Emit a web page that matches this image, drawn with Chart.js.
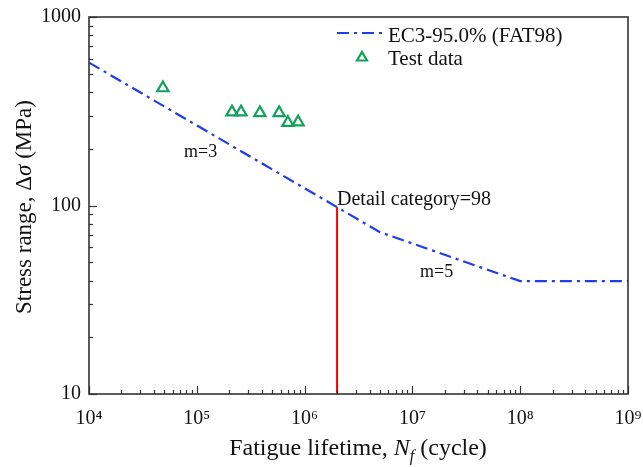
<!DOCTYPE html>
<html>
<head>
<meta charset="utf-8">
<script src="https://cdn.jsdelivr.net/npm/chart.js@4.4.0/dist/chart.umd.min.js"></script>
<style>
    html, body { margin: 0; padding: 0; background: #fff; }
    #wrap { width: 643px; height: 467px; }
</style>
</head>
<body>
<div id="wrap"><canvas id="graficoSN" width="643" height="467"></canvas></div>
<script>
// curva EC3 - 95% (FAT98)
const ciclosEC3 = [1e4, 2e6, 5e6, 1e8, 1e9];
const tensaoEC3 = [573, 98, 72.2, 39.7, 39.7];

// dados de ensaio
const ciclosTeste = [4.85e4, 2.12e5, 2.57e5, 3.85e5, 5.8e5, 7.0e5, 8.7e5];
const tensaoTeste = [420, 313, 313, 310, 310, 275, 277];

// linha da categoria de detalhe
const ciclosDetalhe = [2e6, 2e6];
const tensaoDetalhe = [10, 98];

// ticks principais
const ticksX = [1e4, 1e5, 1e6, 1e7, 1e8, 1e9];
const ticksY = [10, 100, 1000];
const expoentes = ["⁴", "⁵", "⁶", "⁷", "⁸", "⁹"];

const FONTE = "'Liberation Serif', 'Times New Roman', serif";
const AZUL = "#1f3ee6";
const VERDE = "#12a35a";

function pontos(xs, ys) {
    return xs.map((x, i) => ({ x: x, y: ys[i] }));
}

// ticks menores 2..9 em cada decada
function ticksLog(majors) {
    const lista = [];
    majors.forEach((m, i) => {
        lista.push({ value: m, major: true });
        if (i < majors.length - 1) {
            for (let k = 2; k <= 9; k++) lista.push({ value: m * k, major: false });
        }
    });
    return lista;
}

const plugDesenho = {
    id: "desenho",
    afterDraw(chart) {
        const ctx = chart.ctx;
        const a = chart.chartArea;
        const sx = chart.scales.x, sy = chart.scales.y;
        ctx.save();

        // ticks para dentro
        ctx.strokeStyle = "#333";
        ctx.lineWidth = 1.2;
        sx.ticks.forEach(t => {
            const px = Math.round(sx.getPixelForValue(t.value)) + 0.5;
            const len = t.major ? 8 : 4;
            ctx.beginPath();
            ctx.moveTo(px, a.bottom);
            ctx.lineTo(px, a.bottom - len);
            ctx.stroke();
        });
        sy.ticks.forEach(t => {
            const py = Math.round(sy.getPixelForValue(t.value)) + 0.5;
            const len = t.major ? 8 : 4;
            ctx.beginPath();
            ctx.moveTo(a.left, py);
            ctx.lineTo(a.left + len, py);
            ctx.stroke();
        });

        // moldura
        ctx.lineWidth = 1.6;
        ctx.strokeStyle = "#333";
        ctx.strokeRect(a.left, a.top, a.right - a.left, a.bottom - a.top);

        // anotacoes
        ctx.fillStyle = "#111";
        ctx.textBaseline = "alphabetic";
        ctx.textAlign = "left";
        ctx.font = "18px " + FONTE;
        ctx.fillText("m=3", 184, 157);
        ctx.fillText("m=5", 420, 277);
        ctx.font = "20px " + FONTE;
        ctx.fillText("Detail category=98", 337, 205);

        // legenda
        ctx.font = "21px " + FONTE;
        ctx.fillText(chart.data.datasets[0].label, 388, 42);
        ctx.fillText(chart.data.datasets[1].label, 388, 65);
        ctx.strokeStyle = AZUL;
        ctx.lineWidth = 2.2;
        ctx.setLineDash([12, 5, 3, 5]);
        ctx.beginPath();
        ctx.moveTo(337, 33);
        ctx.lineTo(384, 33);
        ctx.stroke();
        ctx.setLineDash([]);
        ctx.strokeStyle = VERDE;
        ctx.beginPath();
        ctx.moveTo(362, 52);
        ctx.lineTo(367, 60.5);
        ctx.lineTo(357, 60.5);
        ctx.closePath();
        ctx.stroke();

        // titulos dos eixos
        ctx.fillStyle = "#111";
        const partesX = [
            ["Fatigue lifetime, ", "24px " + FONTE, 0],
            ["N", "italic 24px " + FONTE, 0],
            ["f", "italic 16px " + FONTE, 6],
            [" (cycle)", "24px " + FONTE, 0]
        ];
        escreverPartes(ctx, partesX, 358, 455);

        ctx.translate(31, 207);
        ctx.rotate(-Math.PI / 2);
        const partesY = [
            ["Stress range, \u0394", "23px " + FONTE, 0],
            ["\u03c3", "italic 23px " + FONTE, 0],
            [" (MPa)", "23px " + FONTE, 0]
        ];
        escreverPartes(ctx, partesY, 0, 0);
        ctx.restore();
    }
};

function escreverPartes(ctx, partes, cx, y) {
    let total = 0;
    partes.forEach(p => { ctx.font = p[1]; total += ctx.measureText(p[0]).width; });
    let x = cx - total / 2;
    ctx.textAlign = "left";
    partes.forEach(p => {
        ctx.font = p[1];
        ctx.fillText(p[0], x, y + p[2]);
        x += ctx.measureText(p[0]).width;
    });
}

const ctx = document.getElementById("graficoSN").getContext("2d");
new Chart(ctx, {
    type: "scatter",
    data: {
        datasets: [
            {
                label: "EC3-95.0% (FAT98)",
                data: pontos(ciclosEC3, tensaoEC3),
                showLine: true,
                borderColor: AZUL,
                borderWidth: 2.2,
                borderDash: [12, 5, 3, 5],
                pointRadius: 0,
                fill: false
            },
            {
                label: "Test data",
                data: pontos(ciclosTeste, tensaoTeste),
                pointStyle: "triangle",
                pointRadius: 6.5,
                borderColor: VERDE,
                backgroundColor: "rgba(255,255,255,0)",
                borderWidth: 2.2
            },
            {
                label: "Detail category",
                data: pontos(ciclosDetalhe, tensaoDetalhe),
                showLine: true,
                borderColor: "#ff0000",
                borderWidth: 2,
                pointRadius: 0
            }
        ]
    },
    options: {
        responsive: false,
        animation: false,
        layout: { padding: { left: 0, top: 17, right: 15, bottom: 0 } },
        plugins: {
            legend: { display: false },
            tooltip: { enabled: false }
        },
        scales: {
            x: {
                type: "logarithmic",
                min: 1e4,
                max: 1e9,
                afterBuildTicks: s => { s.ticks = ticksLog(ticksX); },
                afterFit: s => { s.height = 73; s.paddingLeft = 0; s.paddingRight = 0; },
                border: { display: false },
                grid: { display: false },
                ticks: {
                    autoSkip: false,
                    maxRotation: 0,
                    padding: 5,
                    color: "#111",
                    font: { family: FONTE, size: 20 },
                    callback: function (v) {
                        const i = ticksX.indexOf(v);
                        return i >= 0 ? "10" + expoentes[i] : "";
                    }
                }
            },
            y: {
                type: "logarithmic",
                min: 10,
                max: 1000,
                afterBuildTicks: s => { s.ticks = ticksLog(ticksY); },
                afterFit: s => { s.width = 89; s.paddingTop = 0; s.paddingBottom = 0; },
                border: { display: false },
                grid: { display: false },
                ticks: {
                    autoSkip: false,
                    padding: 0,
                    color: "#111",
                    font: { family: FONTE, size: 20 },
                    callback: function (v) {
                        return ticksY.indexOf(v) >= 0 ? String(v) : "";
                    }
                }
            }
        }
    },
    plugins: [plugDesenho]
});
</script>
</body>
</html>
